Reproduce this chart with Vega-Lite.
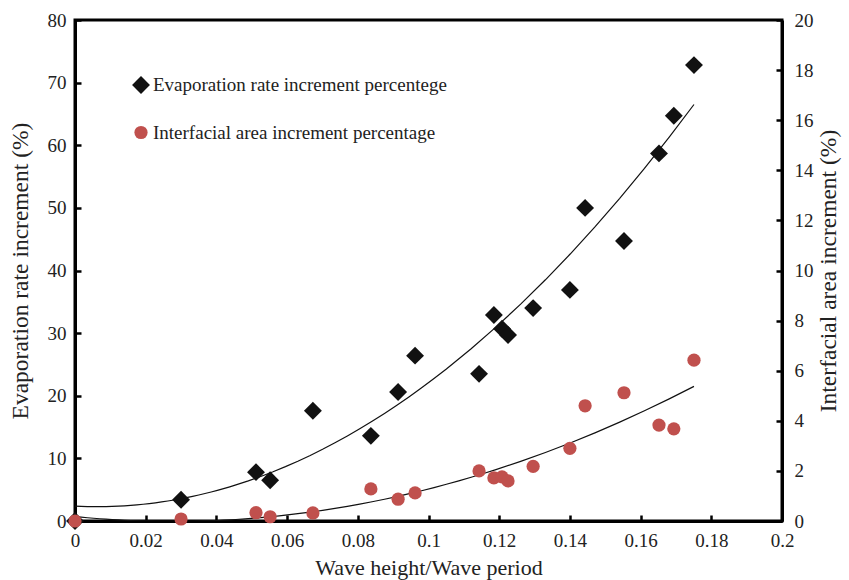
{
  "$schema": "https://vega.github.io/schema/vega-lite/v6.json",
  "autosize": {"type": "none"},
  "width": 707,
  "height": 501,
  "padding": {"left": 75, "top": 20, "right": 67, "bottom": 59},
  "background": "white",
  "config": {
    "font": "Liberation Serif",
    "view": {"stroke": "black", "strokeWidth": 3},
    "axis": {
      "grid": false,
      "domainColor": "black",
      "domainWidth": 3,
      "tickColor": "black",
      "tickWidth": 2.5,
      "tickSize": -6,
      "labelFlush": false,
      "labelFont": "Liberation Serif",
      "labelFontSize": 19,
      "labelColor": "#222",
      "titleFont": "Liberation Serif",
      "titleFontSize": 23.5,
      "titleFontWeight": "normal",
      "titleColor": "#222"
    },
    "legend": {
      "labelFont": "Liberation Serif",
      "labelFontSize": 19,
      "labelColor": "#222",
      "labelLimit": 500
    }
  },
  "datasets": {
    "evap": [
      {"x": 0.0, "y": 0.0, "series": "Evaporation rate increment percentege"},
      {"x": 0.030, "y": 3.4, "series": "Evaporation rate increment percentege"},
      {"x": 0.0512, "y": 7.8, "series": "Evaporation rate increment percentege"},
      {"x": 0.0552, "y": 6.5, "series": "Evaporation rate increment percentege"},
      {"x": 0.0673, "y": 17.6, "series": "Evaporation rate increment percentege"},
      {"x": 0.0837, "y": 13.6, "series": "Evaporation rate increment percentege"},
      {"x": 0.0914, "y": 20.6, "series": "Evaporation rate increment percentege"},
      {"x": 0.0962, "y": 26.4, "series": "Evaporation rate increment percentege"},
      {"x": 0.1143, "y": 23.5, "series": "Evaporation rate increment percentege"},
      {"x": 0.1185, "y": 32.9, "series": "Evaporation rate increment percentege"},
      {"x": 0.1208, "y": 30.7, "series": "Evaporation rate increment percentege"},
      {"x": 0.1225, "y": 29.7, "series": "Evaporation rate increment percentege"},
      {"x": 0.1296, "y": 34.0, "series": "Evaporation rate increment percentege"},
      {"x": 0.1400, "y": 36.9, "series": "Evaporation rate increment percentege"},
      {"x": 0.1443, "y": 50.0, "series": "Evaporation rate increment percentege"},
      {"x": 0.1553, "y": 44.7, "series": "Evaporation rate increment percentege"},
      {"x": 0.1652, "y": 58.7, "series": "Evaporation rate increment percentege"},
      {"x": 0.1694, "y": 64.7, "series": "Evaporation rate increment percentege"},
      {"x": 0.1751, "y": 72.8, "series": "Evaporation rate increment percentege"}
    ],
    "area": [
      {"x": 0.0, "y": 0.0, "series": "Interfacial area increment percentage"},
      {"x": 0.030, "y": 0.08, "series": "Interfacial area increment percentage"},
      {"x": 0.0512, "y": 0.33, "series": "Interfacial area increment percentage"},
      {"x": 0.0552, "y": 0.17, "series": "Interfacial area increment percentage"},
      {"x": 0.0673, "y": 0.32, "series": "Interfacial area increment percentage"},
      {"x": 0.0837, "y": 1.28, "series": "Interfacial area increment percentage"},
      {"x": 0.0914, "y": 0.87, "series": "Interfacial area increment percentage"},
      {"x": 0.0962, "y": 1.12, "series": "Interfacial area increment percentage"},
      {"x": 0.1143, "y": 2.0, "series": "Interfacial area increment percentage"},
      {"x": 0.1185, "y": 1.72, "series": "Interfacial area increment percentage"},
      {"x": 0.1208, "y": 1.76, "series": "Interfacial area increment percentage"},
      {"x": 0.1225, "y": 1.6, "series": "Interfacial area increment percentage"},
      {"x": 0.1296, "y": 2.18, "series": "Interfacial area increment percentage"},
      {"x": 0.1400, "y": 2.9, "series": "Interfacial area increment percentage"},
      {"x": 0.1443, "y": 4.6, "series": "Interfacial area increment percentage"},
      {"x": 0.1553, "y": 5.12, "series": "Interfacial area increment percentage"},
      {"x": 0.1652, "y": 3.83, "series": "Interfacial area increment percentage"},
      {"x": 0.1694, "y": 3.68, "series": "Interfacial area increment percentage"},
      {"x": 0.1751, "y": 6.42, "series": "Interfacial area increment percentage"}
    ]
  },
  "layer": [
    {
      "data": {"name": "evap"},
      "layer": [
        {
          "transform": [{"regression": "y", "on": "x", "method": "poly", "order": 2}],
          "mark": {"type": "line", "color": "#111", "strokeWidth": 1.2, "clip": true},
          "encoding": {
            "x": {"field": "x", "type": "quantitative"},
            "y": {"field": "y", "type": "quantitative"}
          }
        },
        {
          "mark": {"type": "point", "filled": true, "opacity": 1},
          "encoding": {
            "x": {"field": "x", "type": "quantitative", "scale": {"domain": [0, 0.2]},
              "axis": {"title": "Wave height/Wave period", "titleFontSize": 22, "values": [0, 0.02, 0.04, 0.06, 0.08, 0.1, 0.12, 0.14, 0.16, 0.18, 0.2], "format": ".2~f", "labelPadding": 16, "titlePadding": 7}},
            "y": {"field": "y", "type": "quantitative", "scale": {"domain": [0, 80]},
              "axis": {"title": "Evaporation rate increment (%)", "orient": "left", "values": [0, 10, 20, 30, 40, 50, 60, 70, 80], "labelPadding": 15, "titlePadding": 15}},
            "color": {"field": "series", "type": "nominal",
              "scale": {"domain": ["Evaporation rate increment percentege", "Interfacial area increment percentage"], "range": ["#111111", "#c0504d"]},
              "legend": {"title": null, "orient": "none", "legendX": 56, "legendY": 55, "rowPadding": 28, "labelOffset": 2}},
            "shape": {"field": "series", "type": "nominal",
              "scale": {"domain": ["Evaporation rate increment percentege", "Interfacial area increment percentage"], "range": ["diamond", "circle"]}},
            "size": {"field": "series", "type": "nominal",
              "scale": {"domain": ["Evaporation rate increment percentege", "Interfacial area increment percentage"], "range": [320, 175]}}
          }
        }
      ]
    },
    {
      "data": {"name": "area"},
      "layer": [
        {
          "transform": [{"regression": "y", "on": "x", "method": "poly", "order": 2}],
          "mark": {"type": "line", "color": "#111", "strokeWidth": 1.2, "clip": true},
          "encoding": {
            "x": {"field": "x", "type": "quantitative"},
            "y": {"field": "y", "type": "quantitative"}
          }
        },
        {
          "mark": {"type": "point", "filled": true, "opacity": 1},
          "encoding": {
            "x": {"field": "x", "type": "quantitative"},
            "y": {"field": "y", "type": "quantitative", "scale": {"domain": [0, 20]},
              "axis": {"title": "Interfacial area increment (%)", "orient": "right", "titleAngle": 270, "titleBaseline": "top", "values": [0, 2, 4, 6, 8, 10, 12, 14, 16, 18, 20], "labelPadding": 18, "titlePadding": 3}},
            "color": {"field": "series", "type": "nominal"},
            "shape": {"field": "series", "type": "nominal"},
            "size": {"field": "series", "type": "nominal"}
          }
        }
      ],
      "resolve": {"scale": {"y": "shared"}}
    }
  ],
  "resolve": {"scale": {"y": "independent"}, "axis": {"y": "independent"}}
}
